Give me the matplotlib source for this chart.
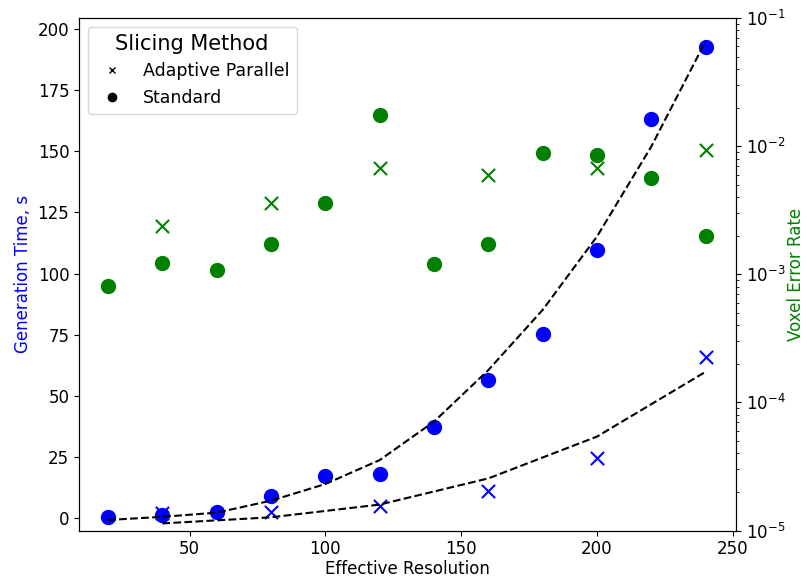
import matplotlib
matplotlib.use("Agg")
import matplotlib.pyplot as plt
from matplotlib.lines import Line2D

# ---- data ----
res_std = [20, 40, 60, 80, 100, 120, 140, 160, 180, 200, 220, 240]
time_std = [0.4, 1.2, 2.6, 9.0, 17.0, 18.0, 37.4, 56.4, 75.3, 109.6, 163.1, 192.8]
err_std = [8.1e-4, 1.23e-3, 1.08e-3, 1.71e-3, 3.57e-3, 1.74e-2, 1.2e-3, 1.72e-3,
           8.8e-3, 8.5e-3, 5.6e-3, 2.0e-3]
fit_std = [-0.8, 0.5, 2.2, 7.1, 13.9, 23.7, 39.4, 60.5, 85.1, 115.1, 151.9, 195.0]

res_ada = [40, 80, 120, 160, 200, 240]
time_ada = [2.0, 2.6, 4.9, 11.2, 24.7, 65.7]
err_ada = [2.39e-3, 3.6e-3, 6.7e-3, 5.9e-3, 6.8e-3, 9.3e-3]
fit_ada = [-2.2, 0.3, 5.5, 16.2, 33.3, 59.8]

x_label = "Effective Resolution"
y_label_left = "Generation Time, s"
y_label_right = "Voxel Error Rate"
legend_title = "Slicing Method"
legend_labels = ["Adaptive Parallel", "Standard"]
left_ticks = [0, 25, 50, 75, 100, 125, 150, 175, 200]

fig = plt.figure(figsize=(8.07, 5.8), dpi=100)
ax = fig.add_subplot(111)
fig.subplots_adjust(left=79/807, right=736/807, top=1-18/580, bottom=1-530.5/580)
ax2 = ax.twinx()

ax.plot(res_std, fit_std, linestyle="--", color="black", linewidth=1.5, zorder=3)
ax.plot(res_ada, fit_ada, linestyle="--", color="black", linewidth=1.5, zorder=3)
ax.scatter(res_std, time_std, marker="o", s=100, color="blue", zorder=2)
ax.scatter(res_ada, time_ada, marker="x", s=90, color="blue", linewidths=1.5, zorder=2)

ax2.scatter(res_std, err_std, marker="o", s=100, color="green")
ax2.scatter(res_ada, err_ada, marker="x", s=90, color="green", linewidths=1.5)
ax2.set_yscale("log")
ax2.set_ylim(1e-5, 1e-1)

ax.set_xlim(9.3, 251.2)
ax.set_ylim(-5.1, 204.5)
ax.set_yticks(left_ticks)
ax.set_xticks([50, 100, 150, 200, 250])

ax.tick_params(labelsize=12)
ax2.tick_params(labelsize=12)

ax.set_xlabel(x_label, fontsize=12, labelpad=1)
ax.set_ylabel(y_label_left, fontsize=12, color="blue")
ax2.set_ylabel(y_label_right, fontsize=12, color="green", labelpad=1)

handles = [
    Line2D([], [], marker="x", color="black", linestyle="None", markersize=5),
    Line2D([], [], marker="o", color="black", linestyle="None", markersize=6),
]
ax.legend(handles, legend_labels, title=legend_title, loc="upper left",
          fontsize=12.5, title_fontsize=15)

fig.savefig("out.png", dpi=100)
